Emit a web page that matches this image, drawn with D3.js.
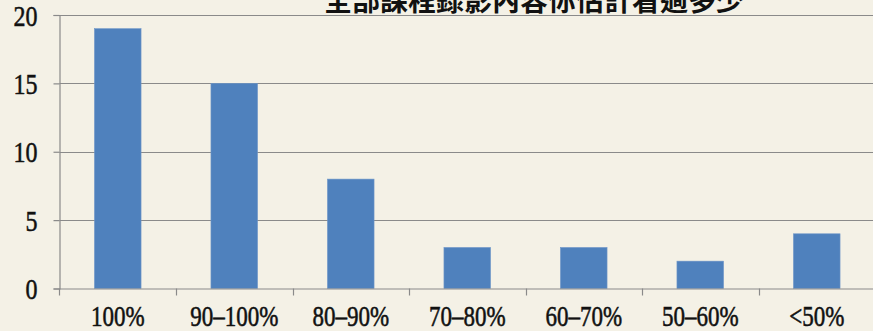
<!DOCTYPE html>
<html>
<head>
<meta charset="utf-8">
<script src="https://cdn.jsdelivr.net/npm/d3@7"></script>
<style>
  html, body { margin: 0; padding: 0; background: #f4f1e6; overflow: hidden; }
  svg { display: block; }
  .tick text { font-family: "Liberation Serif", "Times New Roman", serif; fill: #111; stroke: #111; stroke-width: 0.45px; }
</style>
</head>
<body>
<script>
// Survey: how much of the recorded lectures each student watched
const categories = ["100%", "90–100%", "80–90%", "70–80%", "60–70%", "50–60%", "<50%"];
const counts = [19, 15, 8, 3, 3, 2, 4];
const yTicks = [0, 5, 10, 15, 20];
const title = "全部課程錄影內容你估計看過多少";

const W = 873, H = 331;
const plot = { left: 59.5, right: 875, top: 15, bottom: 288.5 };

const svg = d3.select("body").append("svg")
  .attr("width", W).attr("height", H);

const x = d3.scaleBand()
  .domain(categories)
  .range([plot.left, plot.right])
  .paddingInner(0.6)
  .paddingOuter(0.3);

const y = d3.scaleLinear()
  .domain([0, 20])
  .range([plot.bottom, plot.top]);

const gridColor = "#8a8a8a";

// horizontal gridlines
svg.append("g")
  .selectAll("line")
  .data(yTicks.filter(d => d > 0))
  .join("line")
  .attr("x1", plot.left).attr("x2", plot.right)
  .attr("y1", d => Math.round(y(d)) + 0.5).attr("y2", d => Math.round(y(d)) + 0.5)
  .attr("stroke", gridColor).attr("stroke-width", 1.2);

// bars
svg.append("g")
  .selectAll("rect")
  .data(counts)
  .join("rect")
  .attr("x", (d, i) => x(categories[i]))
  .attr("width", x.bandwidth())
  .attr("y", d => y(d))
  .attr("height", d => plot.bottom - y(d))
  .attr("fill", "#4f81bd")
  .attr("stroke", "#6f96c8")
  .attr("stroke-width", 0.6);

// y axis
const yAxis = svg.append("g")
  .attr("transform", `translate(${plot.left},0)`)
  .call(d3.axisLeft(y).tickValues(yTicks).tickSize(6).tickPadding(22));
yAxis.select(".domain").attr("stroke", gridColor).attr("stroke-width", 1.2);
yAxis.selectAll(".tick line").attr("stroke", gridColor).attr("stroke-width", 1.2);
yAxis.selectAll(".tick text")
  .attr("font-size", 24)
  .attr("x", null)
  .attr("dy", null)
  .attr("text-anchor", "end")
  .attr("transform", "translate(-22,10) scale(1,1.25)");

// x axis; tick marks sit on category boundaries
const xAxis = svg.append("g")
  .attr("transform", `translate(0,${plot.bottom})`)
  .call(d3.axisBottom(x).tickSize(0));
xAxis.select(".domain").attr("stroke", gridColor).attr("stroke-width", 1.2);
xAxis.selectAll(".tick text")
  .attr("font-size", 23)
  .attr("y", null)
  .attr("dy", null)
  .attr("transform", "translate(0,37) scale(1,1.3)");

const firstEdge = x(categories[0]) - x.step() * x.paddingOuter();
svg.append("g")
  .selectAll("line")
  .data(d3.range(categories.length + 1))
  .join("line")
  .attr("x1", i => Math.round(firstEdge + i * x.step()) + 0.5)
  .attr("x2", i => Math.round(firstEdge + i * x.step()) + 0.5)
  .attr("y1", plot.bottom).attr("y2", plot.bottom + 7)
  .attr("stroke", gridColor).attr("stroke-width", 1.2);

// chart title, partly above the top edge
svg.append("text")
  .attr("x", 534).attr("y", 11)
  .attr("text-anchor", "middle")
  .attr("font-family", "Noto Sans CJK TC, sans-serif")
  .attr("font-size", 28)
  .attr("font-weight", 700)
  .attr("fill", "#111")
  .text(title);
</script>
</body>
</html>
